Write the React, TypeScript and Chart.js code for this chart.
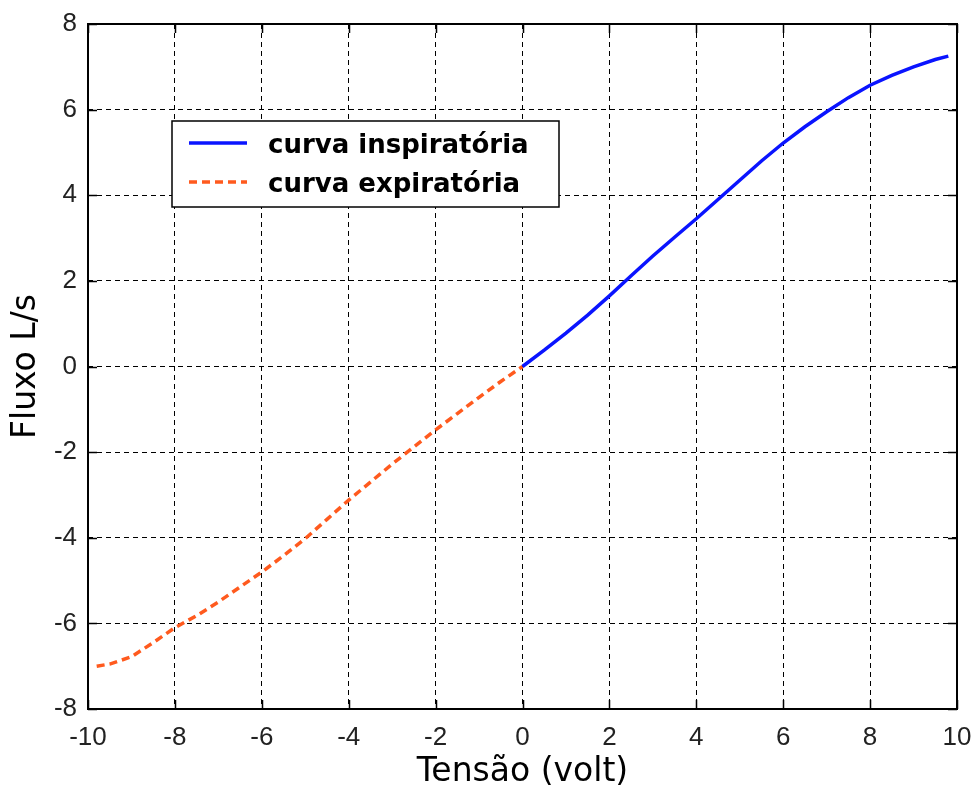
import React, { useEffect, useRef } from "react";
import { Chart, registerables } from "chart.js";

Chart.register(...registerables);

// Curva inspiratória (tensão em volt -> fluxo L/s)
const inspX = [0, 0.5, 1, 1.5, 2, 2.5, 3, 3.5, 4, 4.5, 5, 5.5, 6, 6.5, 7, 7.5, 8, 8.5, 9, 9.5, 9.8];
const inspY = [0, 0.38, 0.78, 1.2, 1.65, 2.12, 2.58, 3.02, 3.45, 3.9, 4.35, 4.8, 5.22, 5.6, 5.95, 6.28, 6.57, 6.8, 7.0, 7.17, 7.25];

// Curva expiratória
const expX = [-9.8, -9.5, -9, -8.5, -8, -7.5, -7, -6.5, -6, -5.5, -5, -4.5, -4, -3.5, -3, -2.5, -2, -1.5, -1, -0.5, 0];
const expY = [-7.0, -6.95, -6.78, -6.45, -6.1, -5.82, -5.5, -5.15, -4.8, -4.42, -4.02, -3.57, -3.12, -2.7, -2.28, -1.88, -1.48, -1.1, -0.72, -0.35, 0];

const seriesLabels = ["curva inspiratória", "curva expiratória"];
const xTitle = "Tensão (volt)";
const yTitle = "Fluxo L/s";
const xRange = [-10, 10];
const yRange = [-8, 8];
const tickStep = 2;

const BLUE = "#0a14ff";
const ORANGE = "#ff5a1e";

const framePlugin = {
  id: "matlabFrame",
  afterDatasetsDraw(chart: any) {
    const { ctx, chartArea, scales } = chart;
    const { left, right, top, bottom } = chartArea;
    ctx.save();
    ctx.strokeStyle = "#000";
    ctx.lineWidth = 2;
    ctx.setLineDash([]);
    ctx.strokeRect(left, top, right - left, bottom - top);
    const tl = 9;
    ctx.lineWidth = 1.5;
    ctx.beginPath();
    scales.x.ticks.forEach((t: any) => {
      const px = Math.round(scales.x.getPixelForValue(t.value)) + 0.5;
      ctx.moveTo(px, bottom);
      ctx.lineTo(px, bottom - tl);
      ctx.moveTo(px, top);
      ctx.lineTo(px, top + tl);
    });
    scales.y.ticks.forEach((t: any) => {
      const py = Math.round(scales.y.getPixelForValue(t.value)) + 0.5;
      ctx.moveTo(left, py);
      ctx.lineTo(left + tl, py);
      ctx.moveTo(right, py);
      ctx.lineTo(right - tl, py);
    });
    ctx.stroke();

    // legend box
    const bx = 172, by = 121, bw = 387, bh = 86;
    ctx.fillStyle = "#fff";
    ctx.fillRect(bx, by, bw, bh);
    ctx.lineWidth = 1.5;
    ctx.strokeStyle = "#000";
    ctx.strokeRect(bx, by, bw, bh);
    const ds = chart.data.datasets;
    const rows = [143, 182];
    ds.forEach((d: any, i: number) => {
      const y = rows[i];
      ctx.beginPath();
      ctx.strokeStyle = d.borderColor;
      ctx.lineWidth = d.borderWidth;
      ctx.setLineDash(d.borderDash || []);
      ctx.moveTo(189, y);
      ctx.lineTo(247, y);
      ctx.stroke();
      ctx.setLineDash([]);
      ctx.fillStyle = "#000";
      ctx.font = "bold 26px 'DejaVu Sans'";
      ctx.textBaseline = "alphabetic";
      ctx.textAlign = "left";
      ctx.fillText(d.label, 268, y + 10);
    });
    ctx.restore();
  },
};

export default function App() {
  const ref = useRef<HTMLCanvasElement | null>(null);

  useEffect(() => {
    if (!ref.current) return;
    const tickFont = { family: "'Liberation Sans Narrow', 'Liberation Sans', Arial", size: 26 };
    const titleFont = { family: "'DejaVu Sans'", size: 33, lineHeight: 1 };
    const chart = new Chart(ref.current, {
      type: "scatter",
      data: {
        datasets: [
          {
            label: seriesLabels[0],
            data: inspX.map((x, i) => ({ x, y: inspY[i] })),
            showLine: true,
            borderColor: BLUE,
            backgroundColor: BLUE,
            borderWidth: 3.5,
            pointRadius: 0,
            tension: 0,
          },
          {
            label: seriesLabels[1],
            data: expX.map((x, i) => ({ x, y: expY[i] })),
            showLine: true,
            borderColor: ORANGE,
            backgroundColor: ORANGE,
            borderWidth: 3.5,
            borderDash: [8, 5],
            pointRadius: 0,
            tension: 0,
          },
        ],
      },
      options: {
        animation: false,
        responsive: false,
        maintainAspectRatio: false,
        layout: { padding: { left: 0, right: 15, top: 24, bottom: 0 } },
        plugins: { legend: { display: false }, tooltip: { enabled: false } },
        scales: {
          x: {
            type: "linear",
            min: xRange[0],
            max: xRange[1],
            ticks: { stepSize: tickStep, color: "#222", font: tickFont, padding: 13 },
            grid: { color: "#000", lineWidth: 1, drawTicks: false },
            border: { display: false, dash: [5, 4] },
            title: { display: true, text: xTitle, color: "#000", font: titleFont, padding: { top: 0, bottom: 2 } },
            afterFit: (s: any) => { s.height = 82; s.paddingLeft = 0; s.paddingRight = 0; },
          },
          y: {
            type: "linear",
            min: yRange[0],
            max: yRange[1],
            ticks: { stepSize: tickStep, color: "#222", font: tickFont, padding: 11 },
            grid: { color: "#000", lineWidth: 1, drawTicks: false },
            border: { display: false, dash: [5, 4] },
            title: { display: true, text: yTitle, color: "#000", font: titleFont, padding: { top: 10, bottom: 0 } },
            afterFit: (s: any) => { s.width = 88; s.paddingTop = 0; s.paddingBottom = 0; },
          },
        },
      },
      plugins: [framePlugin],
    } as any);
    return () => chart.destroy();
  }, []);

  return (
    <div style={{ position: "absolute", left: 0, top: 0, width: 972, height: 791, background: "#fff" }}>
      <canvas ref={ref} width={972} height={791} style={{ display: "block" }} />
    </div>
  );
}
